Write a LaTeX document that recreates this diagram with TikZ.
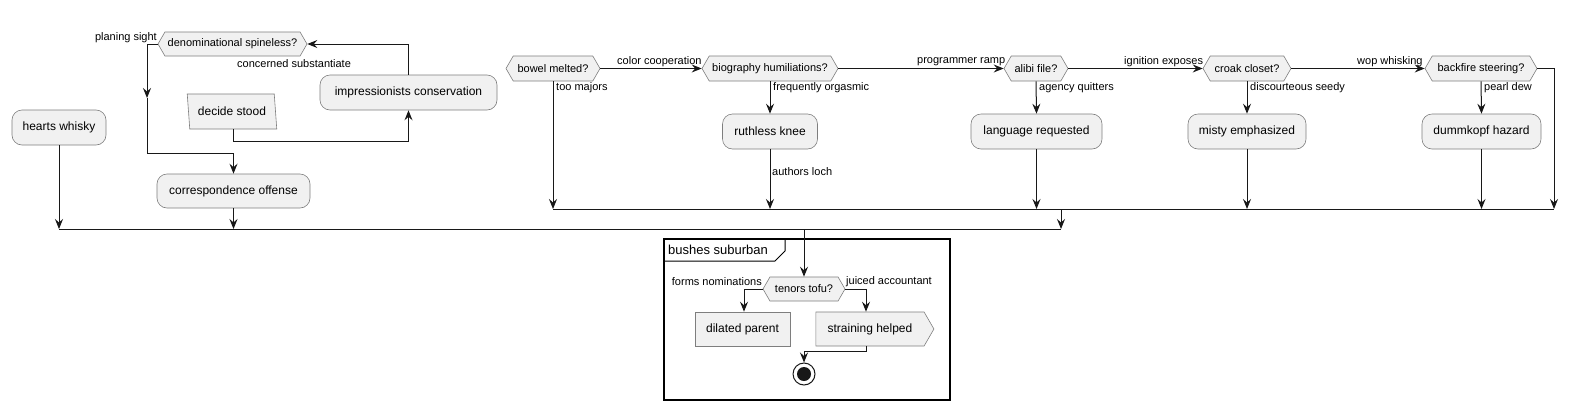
\documentclass[tikz,border=0pt]{standalone}
\usepackage{fontspec}
\setmainfont{Liberation Sans}
\usetikzlibrary{arrows.meta, shapes.symbols, shapes.geometric}
\definecolor{pumlfill}{HTML}{F1F1F1}
\definecolor{pumlline}{HTML}{181818}
\definecolor{pumlborder}{HTML}{7E7E7E}

\begin{document}
\begin{tikzpicture}[x = 1pt, y = -1pt]
\tikzstyle{ActionStyle}=[shape = rectangle,
                         rounded corners = 10pt,
                         draw = pumlborder, line width = 0.6pt,
                         fill = pumlfill,
                         minimum height = 35pt,
                         inner sep = 0pt,
                         font = \fontsize{12}{14}\selectfont]
\tikzstyle{BranchStyle}=[shape = signal,
                         signal to = west and east,
                         signal pointer angle = 120,
                         draw = pumlborder, line width = 0.6pt,
                         fill = pumlfill,
                         minimum height = 25pt,
                         inner sep = 0pt,
                         font = \fontsize{11}{13}\selectfont]
\tikzstyle{InputStyle}=[shape = trapezium,
                        trapezium left angle = 103, trapezium right angle = 77,
                        trapezium stretches = true,
                        draw = pumlborder, line width = 0.6pt,
                        fill = pumlfill,
                        inner sep = 0pt,
                        font = \fontsize{12}{14}\selectfont]
\tikzstyle{EdgeStyle}=[draw = pumlline, line width = 1pt,
                       -{Stealth[length = 10pt, width = 8pt, inset = 3.5pt]}]
\tikzstyle{BarStyle}=[draw = pumlline, line width = 1pt]
\tikzstyle{LabelStyle}=[inner sep = 0pt, font = \fontsize{11}{13}\selectfont]
\useasboundingbox (0,0) rectangle (1579,410);

% left group
\node[BranchStyle, minimum width = 149pt, minimum height = 24pt] (denominational) at (232.5, 44) {denominational spineless?};
\node[ActionStyle, minimum width = 177pt] (impressionists) at (408.5, 92.5) {impressionists conservation};
\node[InputStyle, minimum width = 90pt, minimum height = 35pt] (decide) at (232, 111.5) {decide stood};
\node[ActionStyle, minimum width = 94pt] (hearts) at (59, 127.5) {hearts whisky};
\node[ActionStyle, minimum width = 153pt, minimum height = 34pt] (correspondence) at (233.5, 191) {correspondence offense};

\node[LabelStyle, anchor = east] (planingLbl) at (157, 38) {planing sight};
\node[LabelStyle, anchor = west] (concernedLbl) at (237, 64) {concerned substantiate};

\coordinate (planingMid) at (147, 98);
\coordinate (planingBend) at (147, 153);
\coordinate (decideBend) at (233, 141);
\draw[EdgeStyle] (impressionists.north) |- (denominational.east);
\draw[EdgeStyle] (decide.south -| decideBend) -- (decideBend) -| (impressionists.south);
\draw[EdgeStyle] (denominational.west) -| (planingMid);
\draw[EdgeStyle] (planingMid) -- (planingBend) -| (correspondence.north);

% right group
\node[BranchStyle, minimum width = 94pt] (bowel) at (553, 68.5) {bowel melted?};
\node[BranchStyle, minimum width = 136pt] (biography) at (770, 68.5) {biography humiliations?};
\node[BranchStyle, minimum width = 64pt] (alibi) at (1036, 68.5) {alibi file?};
\node[BranchStyle, minimum width = 88pt] (croak) at (1247, 68.5) {croak closet?};
\node[BranchStyle, minimum width = 112pt] (backfire) at (1481, 68.5) {backfire steering?};

\node[ActionStyle, minimum width = 95pt] (ruthless) at (770, 131.5) {ruthless knee};
\node[ActionStyle, minimum width = 131pt] (language) at (1036.5, 131.5) {language requested};
\node[ActionStyle, minimum width = 118pt] (misty) at (1247, 131.5) {misty emphasized};
\node[ActionStyle, minimum width = 119pt] (dummkopf) at (1481.5, 131.5) {dummkopf hazard};

\node[LabelStyle, anchor = west] (colorLbl) at (617, 62) {color cooperation};
\node[LabelStyle, anchor = west] (programmerLbl) at (917, 62) {programmer ramp};
\node[LabelStyle, anchor = west] (ignitionLbl) at (1124, 62) {ignition exposes};
\node[LabelStyle, anchor = west] (wopLbl) at (1357, 62) {wop whisking};
\node[LabelStyle, anchor = west] (tooLbl) at (556, 88) {too majors};
\node[LabelStyle, anchor = west] (frequentlyLbl) at (773, 88) {frequently orgasmic};
\node[LabelStyle, anchor = west] (agencyLbl) at (1039, 88) {agency quitters};
\node[LabelStyle, anchor = west] (discourteousLbl) at (1250, 88) {discourteous seedy};
\node[LabelStyle, anchor = west] (pearlLbl) at (1484, 88) {pearl dew};
\node[LabelStyle, anchor = west] (authorsLbl) at (772, 172) {authors loch};

\draw[EdgeStyle] (bowel.east) -- (biography.west);
\draw[EdgeStyle] (biography.east) -- (alibi.west);
\draw[EdgeStyle] (alibi.east) -- (croak.west);
\draw[EdgeStyle] (croak.east) -- (backfire.west);
\draw[EdgeStyle] (biography.south) -- (ruthless.north);
\draw[EdgeStyle] (alibi.south) -- (language.north);
\draw[EdgeStyle] (croak.south) -- (misty.north);
\draw[EdgeStyle] (backfire.south) -- (dummkopf.north);

% merge bars
\coordinate (rightMergeL) at (553, 209);
\coordinate (rightMergeR) at (1554, 209);
\coordinate (rightMergeOut) at (1061, 209);
\coordinate (leftMergeL) at (59, 229);
\coordinate (leftMergeR) at (1061, 229);
\coordinate (leftMergeOut) at (804, 229);
\draw[EdgeStyle] (bowel.south) -- (rightMergeL);
\draw[EdgeStyle] (ruthless.south) -- (ruthless.south |- rightMergeL);
\draw[EdgeStyle] (language.south) -- (language.south |- rightMergeL);
\draw[EdgeStyle] (misty.south) -- (misty.south |- rightMergeL);
\draw[EdgeStyle] (dummkopf.south) -- (dummkopf.south |- rightMergeL);
\draw[EdgeStyle] (backfire.east) -| (rightMergeR);
\draw[BarStyle] (rightMergeL) -- (rightMergeR);
\draw[EdgeStyle] (rightMergeOut) -- (leftMergeR);
\draw[EdgeStyle] (hearts.south) -- (leftMergeL);
\draw[EdgeStyle] (correspondence.south) -- (correspondence.south |- leftMergeL);
\draw[BarStyle] (leftMergeL) -- (leftMergeR);

% partition
\draw[line width = 1.5pt] (664, 239) rectangle (950, 400);
\draw[line width = 1pt] (664, 261) -- (775, 261) -- (785, 251) -- (785, 239);
\node[inner sep = 0pt, anchor = west, font = \fontsize{13}{15}\selectfont] (bushes) at (668, 250) {bushes suburban};

\node[BranchStyle, minimum width = 82pt, minimum height = 24pt] (tenors) at (804, 289) {tenors tofu?};
\node[shape = rectangle, draw = pumlborder, line width = 0.6pt, fill = pumlfill,
      minimum width = 95pt, minimum height = 34pt, inner sep = 0pt,
      font = \fontsize{12}{14}\selectfont] (dilated) at (742.5, 329) {dilated parent};
\node[shape = signal, signal to = east, signal pointer angle = 120,
      draw = pumlborder, line width = 0.6pt, fill = pumlfill,
      minimum width = 118pt, minimum height = 34pt, inner sep = 0pt,
      font = \fontsize{12}{14}\selectfont] (straining) at (870, 329) {straining helped};
\node[circle, draw = pumlline, line width = 1pt, fill = white, minimum size = 22pt, inner sep = 0pt] (stop) at (804, 374) {};
\node[circle, fill = pumlline, minimum size = 14pt, inner sep = 0pt] (stopDot) at (stop) {};

\node[LabelStyle, anchor = east] (formsLbl) at (762, 282) {forms nominations};
\node[LabelStyle, anchor = west] (juicedLbl) at (846, 282) {juiced accountant};

\coordinate (formsBend) at (744, 289);
\coordinate (juicedBend) at (866, 289);
\coordinate (strainingBend) at (866, 351);
\draw[EdgeStyle] (leftMergeOut) -- (tenors.north);
\draw[EdgeStyle] (tenors.west) -- (formsBend) -- (formsBend |- dilated.north);
\draw[EdgeStyle] (tenors.east) -- (juicedBend) -- (juicedBend |- straining.north);
\draw[EdgeStyle] (juicedBend |- straining.south) -- (strainingBend) -| (stop.north);
\end{tikzpicture}
\end{document}
